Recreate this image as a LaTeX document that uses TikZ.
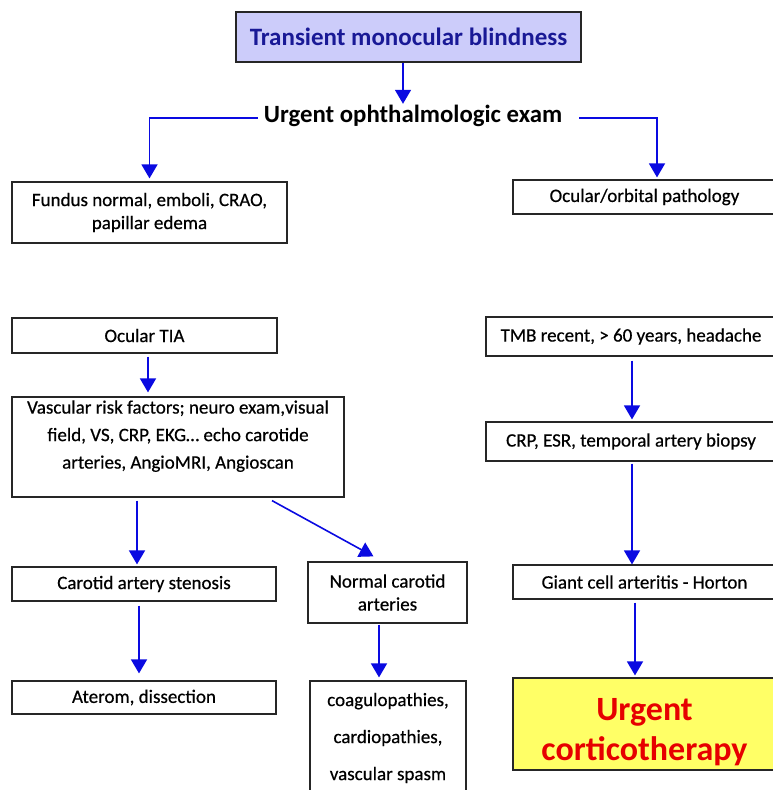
\documentclass[tikz,border=0pt]{standalone}
\usepackage{fontspec}
\setmainfont{Carlito}
\newfontfamily\boxfont{Carlito}[FakeBold=0.5]
\usetikzlibrary{arrows.meta,calc}
\definecolor{arrblue}{RGB}{10,10,225}
\definecolor{titleblue}{RGB}{25,25,150}
\definecolor{titlefill}{RGB}{204,204,250}
\definecolor{urgfill}{RGB}{255,255,102}
\definecolor{urgred}{RGB}{230,0,0}
\begin{document}
\begin{tikzpicture}[x=1pt,y=-1pt,
  box/.style={draw=black!85, line width=1.2pt, fill=white, align=center, inner sep=0pt,
              font=\boxfont\fontsize{19}{23}\selectfont},
  arr/.style={draw=arrblue, line width=1.6pt, -{Triangle[width=16pt,length=14pt]}}]
\useasboundingbox (0,0) rectangle (773,790);
\clip (0,0) rectangle (773,790);
% nodes
\node[box, minimum width=345pt, minimum height=50pt, fill=titlefill, line width=2pt,
      text=titleblue, font=\fontsize{25}{30}\selectfont\bfseries] (title) at (408.5,37)
      {Transient monocular blindness};
\node[font=\fontsize{24.8}{30}\selectfont\bfseries, inner sep=0pt, text height=18pt, text depth=6pt]
      (exam) at (413,116) {Urgent ophthalmologic exam};
\node[box, minimum width=275pt, minimum height=61pt] (fundus) at (149.5,212.5)
      {Fundus normal, emboli, CRAO,\\ papillar edema};
\node[box, minimum width=263pt, minimum height=34pt] (orbital) at (644.5,197)
      {Ocular/orbital pathology};
\node[box, minimum width=265pt, minimum height=35pt] (tia) at (144.5,335.5) {Ocular TIA};
\node[box, minimum width=332pt, minimum height=100pt, font=\boxfont\fontsize{19}{27.5}\selectfont] (vasc) at (178,447)
      {Vascular risk factors; neuro exam,visual\\ field, VS, CRP, EKG… echo carotide\\ arteries, AngioMRI, Angioscan\rule[-25pt]{0pt}{25pt}};
\node[box, minimum width=290pt, minimum height=39pt] (tmb) at (631,336.5)
      {TMB recent, > 60 years, headache};
\node[box, minimum width=290pt, minimum height=39pt] (crp) at (631,441.5)
      {CRP, ESR, temporal artery biopsy};
\node[box, minimum width=264pt, minimum height=34pt] (carotid) at (144,584)
      {Carotid artery stenosis};
\node[box, minimum width=159pt, minimum height=61pt] (normal) at (387.5,592.5)
      {Normal carotid\\ arteries};
\node[box, minimum width=263pt, minimum height=34pt] (giant) at (644.5,582)
      {Giant cell arteritis - Horton};
\node[box, minimum width=264pt, minimum height=33pt] (aterom) at (144,697.5)
      {Aterom, dissection};
\node[box, minimum width=156pt, minimum height=114pt, font=\boxfont\fontsize{19}{37}\selectfont] (coag) at (388,738)
      {coagulopathies,\\ cardiopathies,\\ vascular spasm};
\node[box, minimum width=263pt, minimum height=92pt, fill=urgfill, text=urgred,
      font=\fontsize{34}{40}\selectfont\bfseries] (urgent) at (644.5,724)
      {\rule{0pt}{38pt}Urgent\\ corticotherapy};
% connectors
\draw[arr] ($(title.south)+(-5.5,0)$) -- ($(title.south |- exam.north)+(-5.5,0)$);
\draw[arr] ($(exam.west)+(-6,2)$) -| ($(fundus.north)+(0,-3)$);
\draw[arr] ($(exam.east)+(17,2)$) -| ($(orbital.north)+(12.5,-2)$);
\draw[arr] ($(tia.south)+(3.5,3)$) -- ($(tia.south |- vasc.north)+(3.5,-4)$);
\draw[arr] ($(vasc.south)+(-41,3)$) -- ($(vasc.south |- carotid.north)+(-41,-2)$);
\draw[arr] ($(vasc.south)+(94,3)$) -- ($(normal.north)+(-14,-5)$);
\draw[arr] ($(carotid.south)+(-5,4)$) -- ($(carotid.south |- aterom.north)+(-5,-7)$);
\draw[arr] ($(normal.south)+(-8.5,1)$) -- ($(normal.south |- coag.north)+(-8.5,-3)$);
\draw[arr] ($(tmb.south)+(1,4)$) -- ($(tmb.south |- crp.north)+(1,-2)$);
\draw[arr] ($(crp.south)+(1,2)$) -- ($(crp.south |- giant.north)+(1,0)$);
\draw[arr] ($(giant.south)+(-9.5,3)$) -- ($(giant.south |- urgent.north)+(-9.5,-2)$);
\end{tikzpicture}
\end{document}
